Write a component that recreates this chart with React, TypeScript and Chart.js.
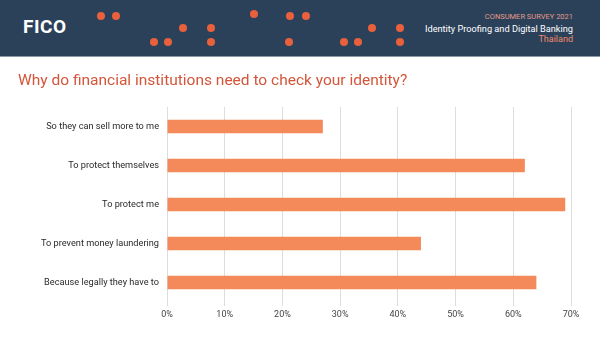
import React, { useEffect, useRef } from "react";
import { Chart, registerables } from "chart.js";

Chart.register(...registerables);

const categories = [
  "So they can sell more to me",
  "To protect themselves",
  "To protect me",
  "To prevent money laundering",
  "Because legally they have to",
];
const values = [27, 62, 69, 44, 64];
const xTicks = [0, 10, 20, 30, 40, 50, 60, 70];

const dots: [number, number][] = [
  [101, 16], [116, 16], [254, 14], [290, 16], [306, 16],
  [183, 28], [211, 28], [372, 28], [400, 28],
  [154, 42], [168, 42], [211, 42], [289, 42], [344, 42], [358, 42], [400, 42],
];

export default function App() {
  const ref = useRef<HTMLCanvasElement>(null);
  useEffect(() => {
    document.body.style.margin = "0";
    const chart = new Chart(ref.current!, {
      type: "bar",
      data: {
        labels: categories,
        datasets: [
          {
            data: values,
            backgroundColor: "#f4895a",
            categoryPercentage: 1,
            barPercentage: 0.34,
          },
        ],
      },
      options: {
        indexAxis: "y",
        animation: false,
        responsive: false,
        maintainAspectRatio: false,
        layout: { padding: { top: 107, right: 29, left: 0, bottom: 0 } },
        plugins: { legend: { display: false }, tooltip: { enabled: false } },
        scales: {
          x: {
            min: 0,
            max: 70,
            afterBuildTicks: (s: any) => {
              s.ticks = xTicks.map((v) => ({ value: v }));
            },
            afterFit: (s: any) => {
              s.height = 36;
            },
            grid: { color: "#dddddd", tickLength: 4, drawTicks: true },
            border: { display: false },
            ticks: {
              padding: 3,
              color: "#444",
              font: { family: "Roboto", size: 9 },
              callback: (v: any) => v + "%",
            },
          },
          y: {
            afterFit: (s: any) => {
              s.width = 167;
            },
            grid: { display: false, drawTicks: false },
            border: { display: false },
            ticks: {
              padding: 8,
              color: "#2a2a2a",
              font: { family: "Roboto", size: 9.2 },
            },
          },
        },
      },
    });
    return () => chart.destroy();
  }, []);

  return (
    <div style={{ position: "relative", width: 600, height: 338, background: "#fff", overflow: "hidden", fontFamily: "Roboto" }}>
      <canvas ref={ref} width={600} height={338} style={{ position: "absolute", left: 0, top: 0 }} />
      <div style={{ position: "absolute", left: 0, top: 0, width: 600, height: 56, background: "#2b4159", borderBottom: "1px solid #8a98a8" }}>
        <div style={{ position: "absolute", left: 23, top: 17, color: "#fff", fontWeight: 700, fontSize: 19, letterSpacing: 0.5, fontFamily: "Roboto", lineHeight: "20px" }}>FICO</div>
        {dots.map(([x, y], i) => (
          <div key={i} style={{ position: "absolute", left: x - 4, top: y - 4, width: 8, height: 8, borderRadius: 4, background: "#e8603c" }} />
        ))}
        <div style={{ position: "absolute", right: 27, top: 11, textAlign: "right", lineHeight: "11.5px" }}>
          <div style={{ color: "#e39a8a", fontSize: 7.5 }}>CONSUMER SURVEY 2021</div>
          <div style={{ color: "#fff", fontSize: 9.2 }}>Identity Proofing and Digital Banking</div>
          <div style={{ color: "#f08a6a", fontSize: 9 }}>Thailand</div>
        </div>
      </div>
      <div style={{ position: "absolute", left: 18, top: 71, color: "#d4553a", fontSize: 15.5, fontFamily: "Roboto" }}>
        Why do financial institutions need to check your identity?
      </div>
    </div>
  );
}
